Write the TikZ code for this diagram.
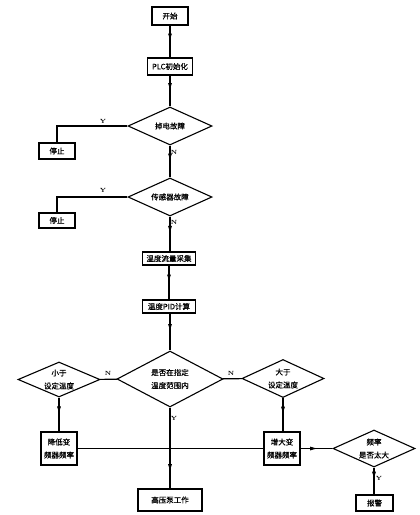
\documentclass[tikz,border=0pt]{standalone}
\usepackage{fontspec}
\newfontfamily\cjk[FakeBold=0.6]{Noto Sans CJK SC}
\usetikzlibrary{shapes.geometric,arrows.meta,decorations.markings}
\begin{document}
\begin{tikzpicture}[x=1pt,y=1pt,
  every node/.style={inner sep=0pt},
  box/.style={draw,line width=1.2pt,rectangle,font=\cjk\fontsize{7.5}{13}\selectfont,align=center},
  dia/.style={draw,line width=1.1pt,diamond,aspect=2.2,font=\cjk\fontsize{7.5}{13}\selectfont,align=center},
  lbl/.style={font=\fontsize{6}{7}\selectfont\bfseries},
  flow/.style={line width=1.1pt},
  midarrow/.style={postaction={decorate,decoration={markings,mark=at position #1 with {\arrow{Latex[length=8pt,width=4pt]}}}}},
  midarrow/.default=0.5]
\useasboundingbox (0,0) rectangle (420,-515);
\fill[white] (0,0) rectangle (420,-515);

\node[box,minimum width=36pt,minimum height=18pt] (start) at (170,-16) {开始};
\node[box,minimum width=45pt,minimum height=17pt] (plc) at (170,-66.5) {PLC初始化};
\node[dia,minimum width=84pt,minimum height=38pt] (d1) at (170,-126) {掉电故障};
\node[box,minimum width=36pt,minimum height=16pt] (stop1) at (57,-151) {停止};
\node[dia,minimum width=84pt,minimum height=38pt] (d2) at (170,-197) {传感器故障};
\node[box,minimum width=36pt,minimum height=15pt] (stop2) at (57,-220.5) {停止};
\node[box,minimum width=53pt,minimum height=13pt] (collect) at (169,-258.5) {温度流量采集};
\node[box,minimum width=53pt,minimum height=13pt] (pid) at (169,-306.5) {温度PID计算};
\node[dia,minimum width=106pt,minimum height=56pt] (big) at (170,-379) {是否在指定\\温度范围内};
\node[dia,minimum width=82pt,minimum height=35pt] (dl) at (59,-379.5) {小于\\设定温度};
\node[dia,minimum width=82pt,minimum height=38pt] (dr) at (283,-378.5) {大于\\设定温度};
\node[box,minimum width=36pt,minimum height=33pt] (lower) at (59,-448.5) {降低变\\频器频率};
\node[box,minimum width=36pt,minimum height=33pt] (raise) at (282,-448.5) {增大变\\频器频率};
\node[box,minimum width=64pt,minimum height=22pt] (pump) at (170,-500) {高压泵工作};
\node[dia,minimum width=82pt,minimum height=37pt] (df) at (374,-448.5) {频率\\是否太大};
\node[box,minimum width=37pt,minimum height=16pt] (alarm) at (374.5,-503) {报警};

\draw[flow,midarrow] (start) -- (plc);
\draw[flow,midarrow] (plc) -- (d1);
\draw[flow] (d1.west) -| (stop1.north);
\draw[flow,midarrow] (d1) -- (d2);
\draw[flow] (d2.west) -| (stop2.north);
\draw[flow,midarrow] (d2) -- (d2.south |- collect.north);
\draw[flow,midarrow] (collect) -- (pid);
\draw[flow,midarrow] (pid.south -| big.north) -- (big);
\draw[flow] (big) -- (dl);
\draw[flow] (big) -- (dr);
\draw[flow,midarrow] (dl) -- (lower);
\draw[flow,midarrow] (dr.south) -- (dr.south |- raise.north);
\draw[flow,midarrow=0.8] (big) -- (pump);
\draw[flow] (lower) -- (raise);
\draw[flow,midarrow=0.55] (raise) -- (df);
\draw[flow,midarrow=0.45] (df) -- (df.south |- alarm.north);

\node[lbl] (ly1) at (103,-121) {Y};
\node[lbl] (ln1) at (174,-152) {N};
\node[lbl] (ly2) at (103,-190) {Y};
\node[lbl] (ln2) at (174,-222) {N};
\node[lbl] (ln3) at (108,-373) {N};
\node[lbl] (ln4) at (231,-373) {N};
\node[lbl] (ly3) at (174,-418) {Y};
\node[lbl] (ly4) at (379,-478) {Y};
\end{tikzpicture}
\end{document}
